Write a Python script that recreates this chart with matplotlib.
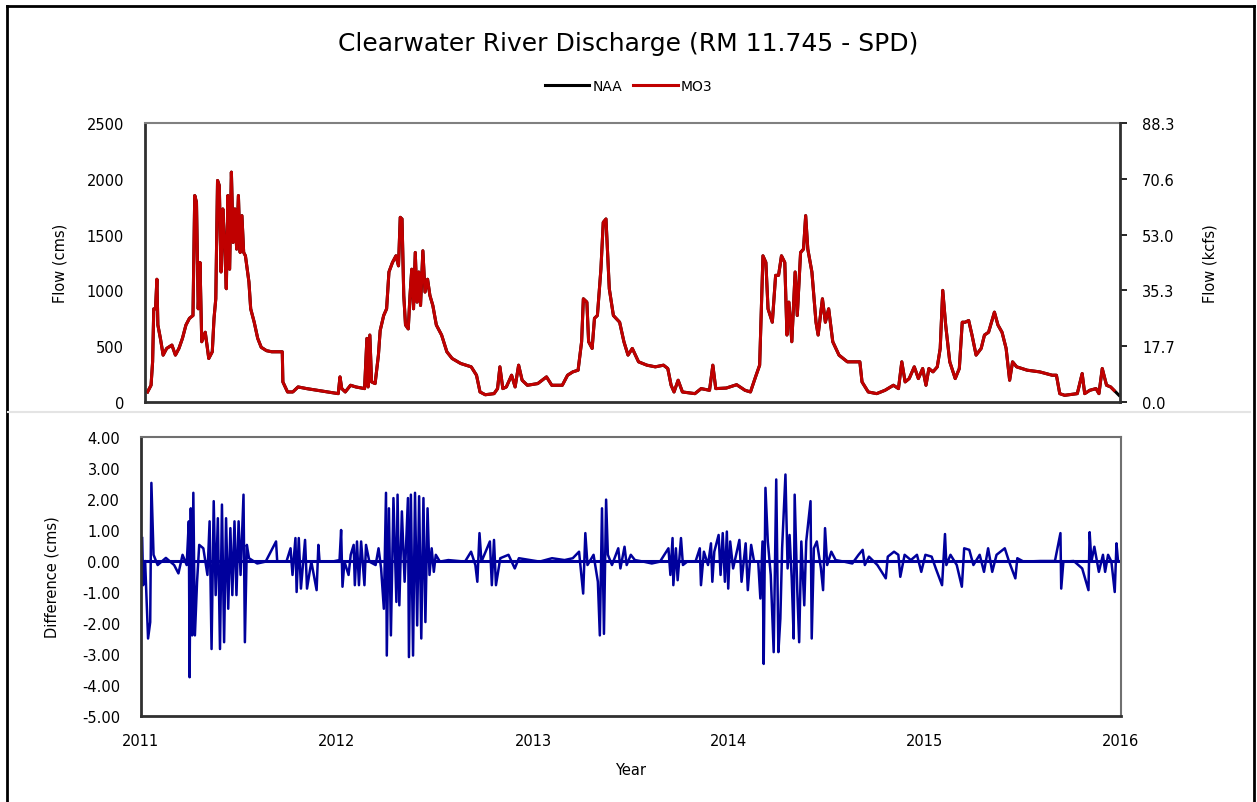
import matplotlib
matplotlib.use("Agg")
import matplotlib.pyplot as plt
from matplotlib.lines import Line2D

# flow (cms), decimal years
flow_t = [2011.013, 2011.031, 2011.039, 2011.045, 2011.054, 2011.061, 2011.066, 2011.079, 2011.093, 2011.111,
          2011.138, 2011.156, 2011.174, 2011.192, 2011.210, 2011.228, 2011.246, 2011.255, 2011.264, 2011.273,
          2011.282, 2011.291, 2011.309, 2011.327, 2011.345, 2011.354, 2011.363, 2011.372, 2011.381, 2011.390,
          2011.399, 2011.408, 2011.417, 2011.425, 2011.434, 2011.443, 2011.452, 2011.461, 2011.470, 2011.479,
          2011.488, 2011.497, 2011.506, 2011.515, 2011.524, 2011.533, 2011.542, 2011.560, 2011.578, 2011.596,
          2011.623, 2011.650, 2011.704, 2011.707, 2011.731, 2011.758, 2011.785, 2011.829, 2011.883, 2011.937,
          2011.991, 2012.000, 2012.009, 2012.027, 2012.054, 2012.081, 2012.126, 2012.138, 2012.144, 2012.153,
          2012.162, 2012.180, 2012.197, 2012.206, 2012.224, 2012.239, 2012.251, 2012.269, 2012.287, 2012.300,
          2012.309, 2012.318, 2012.327, 2012.336, 2012.350, 2012.359, 2012.368, 2012.377, 2012.386, 2012.395,
          2012.404, 2012.413, 2012.425, 2012.436, 2012.449, 2012.461, 2012.476, 2012.494, 2012.521, 2012.548,
          2012.575, 2012.619, 2012.673, 2012.700, 2012.718, 2012.745, 2012.790, 2012.808, 2012.820, 2012.835,
          2012.853, 2012.880, 2012.898, 2012.916, 2012.934, 2012.961, 2013.014, 2013.059, 2013.086, 2013.140,
          2013.167, 2013.194, 2013.221, 2013.239, 2013.248, 2013.266, 2013.275, 2013.293, 2013.305, 2013.320,
          2013.338, 2013.350, 2013.364, 2013.381, 2013.402, 2013.434, 2013.456, 2013.477, 2013.499, 2013.531,
          2013.574, 2013.617, 2013.659, 2013.681, 2013.698, 2013.713, 2013.734, 2013.756, 2013.820, 2013.852,
          2013.895, 2013.912, 2013.927, 2013.981, 2014.034, 2014.077, 2014.105, 2014.131, 2014.152, 2014.169,
          2014.184, 2014.195, 2014.217, 2014.234, 2014.249, 2014.264, 2014.281, 2014.292, 2014.302, 2014.317,
          2014.334, 2014.345, 2014.362, 2014.377, 2014.388, 2014.399, 2014.420, 2014.441, 2014.452, 2014.474,
          2014.489, 2014.506, 2014.527, 2014.559, 2014.602, 2014.666, 2014.677, 2014.709, 2014.752, 2014.795,
          2014.838, 2014.864, 2014.881, 2014.898, 2014.919, 2014.945, 2014.966, 2014.988, 2015.005, 2015.020,
          2015.041, 2015.063, 2015.078, 2015.091, 2015.106, 2015.127, 2015.155, 2015.176, 2015.191, 2015.206,
          2015.224, 2015.241, 2015.262, 2015.288, 2015.305, 2015.326, 2015.341, 2015.356, 2015.374, 2015.395,
          2015.416, 2015.434, 2015.449, 2015.470, 2015.524, 2015.588, 2015.652, 2015.674, 2015.691, 2015.716,
          2015.781, 2015.806, 2015.819, 2015.845, 2015.877, 2015.892, 2015.909, 2015.931, 2015.952, 2015.969]
mo3_flow = [90, 150, 360, 835, 835, 1100, 690, 570, 420, 480,
            510, 420, 480, 570, 690, 750, 775, 1850, 1790, 835,
            1250, 540, 625, 390, 450, 750, 925, 1985, 1940, 1165,
            1730, 1430, 1015, 1850, 1190, 2060, 1430, 1730, 1370, 1850,
            1340, 1670, 1340, 1310, 1190, 1075, 835, 715, 570, 490,
            460, 450, 450, 180, 90, 90, 135, 120, 105, 90,
            75, 225, 120, 90, 150, 135, 120, 570, 135, 600,
            180, 165, 420, 640, 775, 835, 1165, 1250, 1310, 1220,
            1655, 1640, 955, 690, 655, 955, 1190, 835, 1340, 895,
            1165, 865, 1355, 985, 1100, 955, 865, 690, 600, 450,
            390, 345, 315, 240, 90, 65, 75, 120, 315, 120,
            135, 240, 135, 330, 195, 150, 165, 225, 150, 150,
            240, 270, 285, 540, 925, 895, 540, 480, 750, 775,
            1190, 1610, 1640, 1015, 775, 715, 540, 420, 480, 360,
            330, 315, 330, 300, 150, 90, 195, 90, 75, 120,
            105, 330, 120, 125, 155, 105, 90, 225, 330, 1310,
            1250, 835, 715, 1135, 1135, 1310, 1250, 600, 895, 540,
            1165, 775, 1340, 1370, 1670, 1370, 1165, 715, 600, 925,
            715, 835, 540, 420, 360, 360, 180, 90, 75, 105,
            150, 120, 360, 180, 210, 315, 210, 300, 150, 300,
            270, 315, 480, 1000, 690, 360, 210, 300, 715, 715,
            730, 600, 420, 480, 600, 625, 715, 805, 690, 625,
            480, 195, 360, 315, 285, 270, 240, 240, 75, 60,
            75, 255, 75, 105, 120, 75, 300, 150, 135, 105]
# NAA is indistinguishable from MO3 at this scale; it runs a few days longer
naa_t = flow_t + [2015.995]
naa_flow = mo3_flow + [60]

# difference (cms)
diff_t = [2011.006, 2011.011, 2011.021, 2011.036, 2011.047, 2011.053, 2011.064, 2011.085, 2011.127, 2011.169,
          2011.191, 2011.212, 2011.233, 2011.244, 2011.248, 2011.254, 2011.261, 2011.267, 2011.275, 2011.286,
          2011.297, 2011.318, 2011.339, 2011.350, 2011.360, 2011.371, 2011.381, 2011.392, 2011.403, 2011.413,
          2011.424, 2011.434, 2011.445, 2011.456, 2011.466, 2011.477, 2011.487, 2011.498, 2011.508, 2011.523,
          2011.530, 2011.540, 2011.551, 2011.593, 2011.636, 2011.689, 2011.695, 2011.742, 2011.763, 2011.773,
          2011.788, 2011.794, 2011.805, 2011.816, 2011.837, 2011.847, 2011.869, 2011.896, 2011.905, 2011.911,
          2011.975, 2012.013, 2012.021, 2012.028, 2012.038, 2012.059, 2012.070, 2012.085, 2012.091, 2012.102,
          2012.112, 2012.123, 2012.140, 2012.148, 2012.165, 2012.197, 2012.212, 2012.225, 2012.239, 2012.250,
          2012.254, 2012.265, 2012.275, 2012.288, 2012.303, 2012.309, 2012.318, 2012.331, 2012.345, 2012.362,
          2012.367, 2012.377, 2012.388, 2012.398, 2012.409, 2012.419, 2012.430, 2012.441, 2012.451, 2012.462,
          2012.472, 2012.483, 2012.494, 2012.504, 2012.525, 2012.568, 2012.653, 2012.684, 2012.706, 2012.716,
          2012.727, 2012.737, 2012.780, 2012.790, 2012.801, 2012.811, 2012.833, 2012.875, 2012.907, 2012.928,
          2013.034, 2013.097, 2013.161, 2013.203, 2013.235, 2013.256, 2013.267, 2013.278, 2013.309, 2013.331,
          2013.341, 2013.352, 2013.362, 2013.373, 2013.382, 2013.403, 2013.435, 2013.446, 2013.467, 2013.478,
          2013.499, 2013.520, 2013.563, 2013.606, 2013.648, 2013.670, 2013.691, 2013.701, 2013.712, 2013.716,
          2013.729, 2013.738, 2013.755, 2013.765, 2013.787, 2013.829, 2013.851, 2013.857, 2013.872, 2013.893,
          2013.908, 2013.915, 2013.925, 2013.947, 2013.957, 2013.968, 2013.979, 2013.989, 2013.996, 2014.006,
          2014.021, 2014.053, 2014.064, 2014.085, 2014.096, 2014.113, 2014.128, 2014.149, 2014.160, 2014.171,
          2014.177, 2014.186, 2014.198, 2014.213, 2014.228, 2014.241, 2014.252, 2014.262, 2014.271, 2014.288,
          2014.299, 2014.309, 2014.320, 2014.330, 2014.335, 2014.348, 2014.358, 2014.369, 2014.384, 2014.394,
          2014.416, 2014.422, 2014.433, 2014.448, 2014.469, 2014.480, 2014.490, 2014.501, 2014.522, 2014.544,
          2014.586, 2014.629, 2014.661, 2014.682, 2014.693, 2014.714, 2014.757, 2014.800, 2014.810, 2014.842,
          2014.864, 2014.874, 2014.896, 2014.928, 2014.959, 2014.981, 2015.002, 2015.034, 2015.055, 2015.087,
          2015.102, 2015.109, 2015.130, 2015.162, 2015.188, 2015.200, 2015.226, 2015.247, 2015.279, 2015.301,
          2015.322, 2015.343, 2015.365, 2015.407, 2015.429, 2015.461, 2015.471, 2015.503, 2015.588, 2015.663,
          2015.691, 2015.695, 2015.706, 2015.759, 2015.802, 2015.834, 2015.840, 2015.849, 2015.864, 2015.887,
          2015.908, 2015.919, 2015.934, 2015.951, 2015.968, 2015.977, 2015.985]
diff_v = [0.74, -0.78, 0.00, -2.50, -1.97, 2.52, 0.20, -0.13, 0.10, -0.13,
          -0.40, 0.20, -0.13, 1.28, -3.75, 1.70, -2.40, 2.20, -2.40, -0.67,
          0.52, 0.41, -0.45, 1.28, -2.84, 1.93, -1.10, 1.38, -2.84, 1.82,
          -2.62, 1.38, -1.54, 1.06, -1.10, 1.28, -1.10, 1.28, -0.45, 2.14,
          -2.62, 0.52, 0.09, -0.08, -0.02, 0.63, -0.02, -0.02, 0.41, -0.45,
          0.74, -1.00, 0.74, -0.89, 0.68, -0.89, -0.02, -0.94, 0.52, -0.02,
          -0.02, 0.03, 1.00, -0.83, -0.02, -0.45, 0.20, 0.52, -0.78, 0.63,
          -0.78, 0.63, -0.78, 0.52, -0.02, -0.13, 0.41, -0.24, -1.54, 2.20,
          -3.05, 1.70, -2.40, 2.03, -1.32, 2.14, -1.43, 1.60, -0.67, 2.03,
          -3.10, 2.14, -3.05, 2.20, -2.08, 2.09, -2.50, 2.03, -1.97, 1.70,
          -0.45, 0.41, -0.35, 0.20, -0.02, 0.03, -0.02, 0.30, -0.13, -0.67,
          0.90, -0.02, 0.63, -0.78, 0.68, -0.78, 0.09, 0.20, -0.24, 0.09,
          -0.02, 0.09, 0.03, 0.09, 0.30, -1.05, 0.90, -0.13, 0.20, -0.67,
          -2.40, 1.70, -2.35, 1.98, 0.20, -0.13, 0.41, -0.24, 0.46, -0.13,
          0.20, 0.03, -0.02, -0.08, -0.02, 0.20, 0.41, -0.45, 0.74, -0.78,
          0.41, -0.62, 0.74, -0.13, -0.02, -0.02, 0.41, -0.78, 0.30, -0.13,
          0.57, -0.67, 0.30, 0.84, -0.45, 0.90, -0.67, 0.95, -0.89, 0.63,
          -0.24, 0.68, -0.67, 0.57, -0.94, 0.52, -0.02, -0.02, -1.21, 0.63,
          -3.32, 2.36, 0.63, -0.45, -2.94, 2.63, -2.94, -1.86, 0.41, 2.79,
          -0.24, 0.84, -0.56, -2.50, 2.14, -0.89, -2.62, 0.63, -1.43, 0.63,
          1.93, -2.50, 0.41, 0.63, -0.24, -0.94, 1.06, -0.13, 0.30, 0.03,
          -0.02, -0.08, 0.20, 0.36, -0.13, 0.14, -0.13, -0.56, 0.14, 0.30,
          0.20, -0.51, 0.20, 0.03, 0.20, -0.35, 0.20, 0.14, -0.24, -0.78,
          0.87, -0.13, 0.20, -0.13, -0.83, 0.41, 0.36, -0.13, 0.20, -0.35,
          0.41, -0.35, 0.20, 0.41, -0.02, -0.56, 0.09, -0.02, 0.00, 0.00,
          0.90, -0.89, -0.02, 0.00, -0.24, -0.94, 0.93, -0.02, 0.46, -0.35,
          0.20, -0.35, 0.20, -0.02, -1.00, 0.57, -0.02]

years = [2011, 2012, 2013, 2014, 2015, 2016]
flow_ticks = [0, 500, 1000, 1500, 2000, 2500]
kcfs_ticks = [0.0, 17.7, 35.3, 53.0, 70.6, 88.3]
diff_ticks = [-5, -4, -3, -2, -1, 0, 1, 2, 3, 4]

RED = '#c00000'
BLUE = '#00009c'
TICKFONT = 10.5

fig = plt.figure(figsize=(12.57, 8.03), dpi=100)

# frame round the picture and the divider between the panels
fig.add_artist(Line2D([7/1257, 7/1257], [0, 1 - 7/803], color='black', lw=2))
fig.add_artist(Line2D([1254/1257, 1254/1257], [0, 1 - 7/803], color='black', lw=2))
fig.add_artist(Line2D([7/1257, 1254/1257], [1 - 7/803, 1 - 7/803], color='black', lw=2))
fig.add_artist(Line2D([8/1257, 1250/1257], [1 - 413/803, 1 - 413/803], color='#e4e4e4', lw=1.5))

fig.text(0.5, 1 - 44/803, 'Clearwater River Discharge (RM 11.745 - SPD)',
         ha='center', va='center', fontsize=18, family='DejaVu Sans')

# top panel
ax1 = fig.add_axes([145/1257, 1 - 403/803, 975/1257, 279/803])
ax1.plot(naa_t, naa_flow, color='black', lw=2.2, label='NAA')
ax1.plot(flow_t, mo3_flow, color=RED, lw=2.2, label='MO3')
ax1.set_xlim(2011, 2016)
ax1.set_ylim(0, 2500)
ax1.set_yticks(flow_ticks)
ax1.set_xticks([])
ax1.tick_params(axis='y', length=0, pad=15, labelsize=TICKFONT)
ax1.set_ylabel('Flow (cms)', fontsize=TICKFONT, labelpad=14)
for side in ['left', 'bottom']:
    ax1.spines[side].set_color('#303030')
    ax1.spines[side].set_linewidth(2)
ax1.spines['top'].set_color('#808080')
ax1.spines['top'].set_linewidth(1.5)
ax1.spines['right'].set_visible(False)

ax1r = ax1.twinx()
ax1r.set_ylim(0, 88.3)
ax1r.set_yticks(kcfs_ticks)
ax1r.set_yticklabels(['%.1f' % v for v in kcfs_ticks])
ax1r.tick_params(axis='y', direction='out', length=5, width=1.2, pad=11, labelsize=TICKFONT)
ax1r.set_ylabel('Flow (kcfs)', fontsize=TICKFONT, labelpad=20)
for side in ['left', 'top', 'bottom']:
    ax1r.spines[side].set_visible(False)
ax1r.spines['right'].set_color('#303030')
ax1r.spines['right'].set_linewidth(2)

fig.legend(handles=ax1.get_lines(), loc='center', bbox_to_anchor=(0.5, 1 - 87/803),
           ncol=2, frameon=False, fontsize=10, handlelength=3.2, columnspacing=0.8,
           handletextpad=0.2)

# bottom panel
ax2 = fig.add_axes([141/1257, 1 - 717/803, 980/1257, 279/803])
ax2.axhline(0, color=BLUE, lw=2.2, zorder=1)
ax2.plot(diff_t, diff_v, color=BLUE, lw=1.8, zorder=2)
ax2.set_xlim(2011, 2016)
ax2.set_ylim(-5, 4)
ax2.set_xticks(years)
ax2.set_xticklabels([str(y) for y in years])
ax2.set_yticks(diff_ticks)
ax2.set_yticklabels(['%.2f' % v for v in diff_ticks])
ax2.tick_params(length=0, labelsize=TICKFONT)
ax2.tick_params(axis='x', pad=12)
ax2.tick_params(axis='y', pad=15)
ax2.set_ylabel('Difference (cms)', fontsize=TICKFONT, labelpad=16)
ax2.set_xlabel('Year', fontsize=TICKFONT, labelpad=10)
for side in ['left', 'bottom']:
    ax2.spines[side].set_color('#303030')
    ax2.spines[side].set_linewidth(2)
for side in ['top', 'right']:
    ax2.spines[side].set_color('#707070')
    ax2.spines[side].set_linewidth(1.5)

fig.savefig('out.png', dpi=100)
